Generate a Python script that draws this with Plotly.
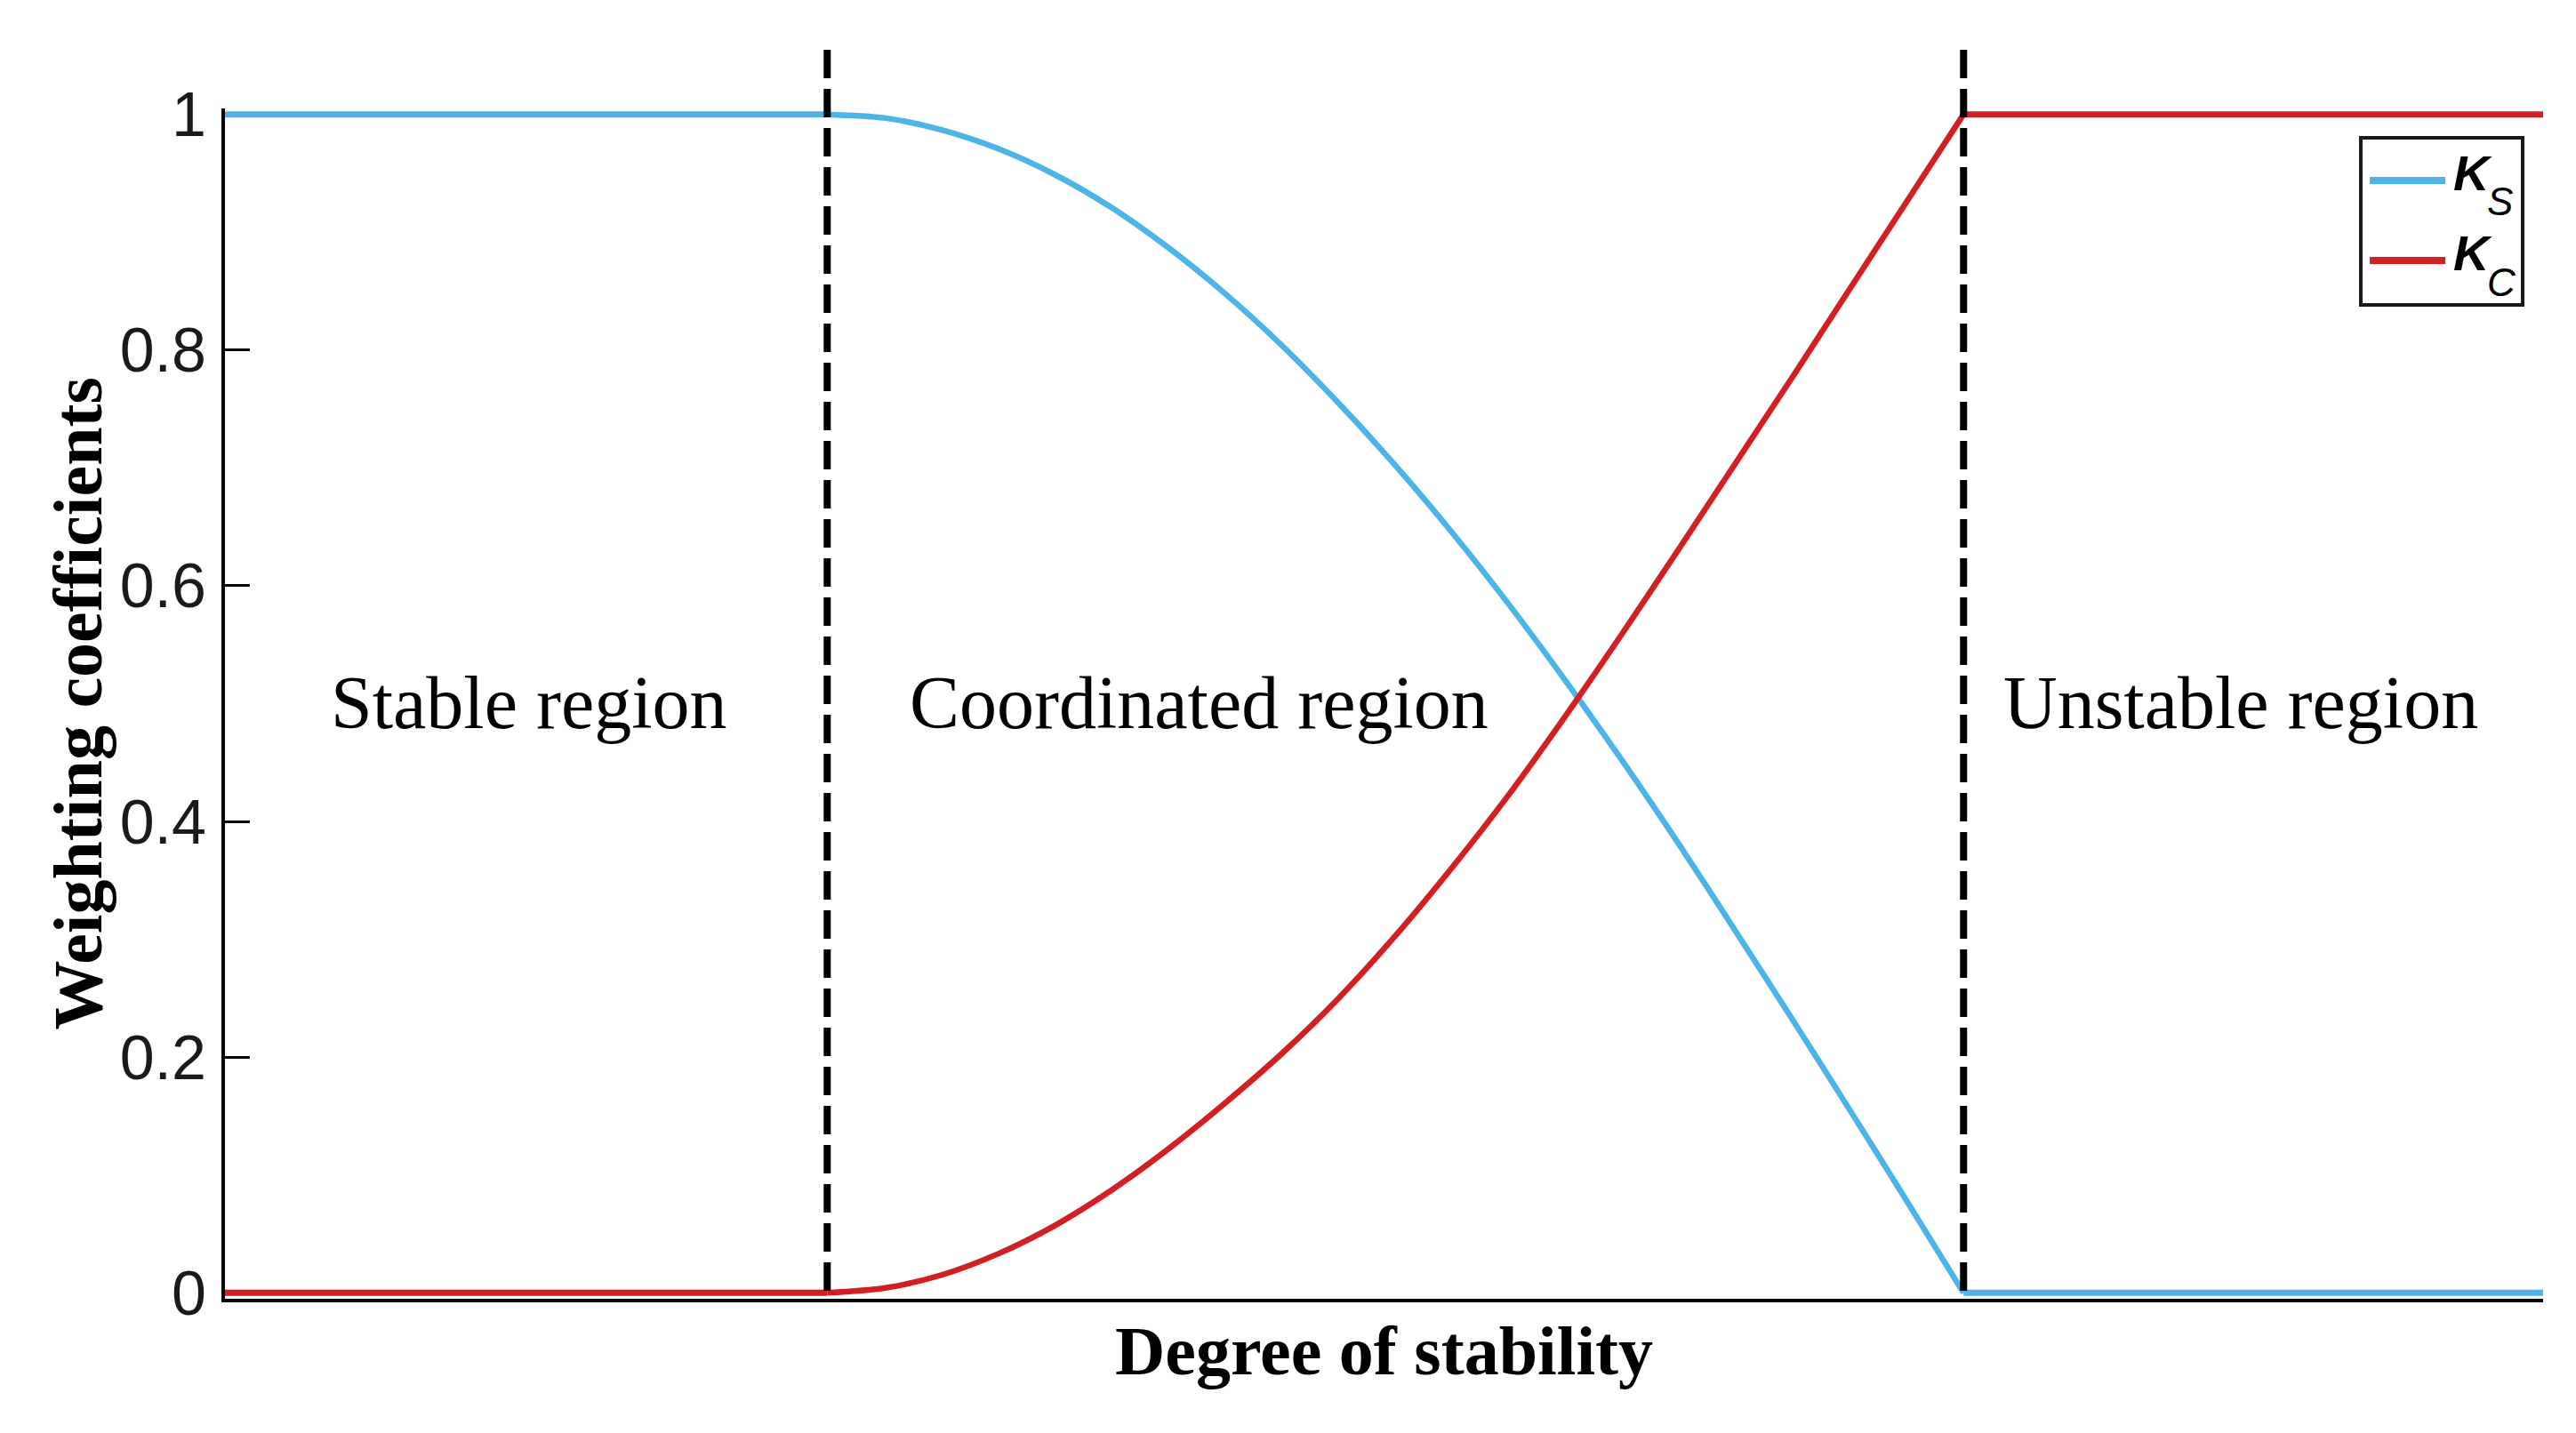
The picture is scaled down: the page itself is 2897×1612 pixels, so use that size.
import plotly.graph_objects as go

# degree of stability (arbitrary units); coordinated region spans 10.6 .. 30.6
flat_x = [0, 10.6, None, 30.6, 40.8]
ks_flat = [1.0, 1.0, None, 0.0, 0.0]
kc_flat = [0.0, 0.0, None, 1.0, 1.0]

curve_x = [10.6, 11.6, 12.6, 13.6, 14.6, 15.6, 16.6, 17.6, 18.6, 19.6, 20.6,
           21.6, 22.6, 23.6, 24.6, 25.6, 26.6, 27.6, 28.6, 29.6, 30.6]
ks_curve = [1.0, 0.997, 0.987, 0.971, 0.949, 0.921, 0.887, 0.848, 0.804, 0.755, 0.702,
            0.645, 0.584, 0.519, 0.451, 0.380, 0.306, 0.231, 0.155, 0.078, 0.0]
kc_curve = [0.0, 0.004, 0.015, 0.033, 0.057, 0.087, 0.122, 0.161, 0.203, 0.250, 0.303,
            0.361, 0.423, 0.490, 0.560, 0.632, 0.705, 0.778, 0.852, 0.926, 1.0]

boundaries = [10.6, 30.6]
region_names = ['Stable region', 'Coordinated region', 'Unstable region']
region_x = [5.35, 17.15, 35.48]

y_ticks = [0, 0.2, 0.4, 0.6, 0.8, 1]
y_ticktext = ['0', '0.2', '0.4', '0.6', '0.8', '1']

blue = '#4CB4E7'
red = '#D11F24'

# page has an 8px body margin, figure sized to fit inside the window
W, H = 2881, 1596
ML, MR, MT, MB = 245, 29, 114, 143
PW, PH = W - ML - MR, H - MT - MB


# absolute screen pixel -> paper coords (for the hand drawn legend etc.)
def px_x(q):
    return (q - 8 - ML) / PW


def px_y(p):
    return (H - MB - (p - 8)) / PH


fig = go.Figure()

for ys, col in [(ks_flat, blue), (kc_flat, red)]:
    fig.add_trace(go.Scatter(x=flat_x, y=ys, mode='lines', showlegend=False,
                             line=dict(color=col, width=7), connectgaps=False))
fig.add_trace(go.Scatter(x=curve_x, y=ks_curve, mode='lines', name='K_S',
                         line=dict(color=blue, width=6.5, shape='spline', smoothing=0.8),
                         showlegend=False))
fig.add_trace(go.Scatter(x=curve_x, y=kc_curve, mode='lines', name='K_C',
                         line=dict(color=red, width=6.5, shape='spline', smoothing=0.8),
                         showlegend=False))

# region boundaries
for b in boundaries:
    fig.add_shape(type='line', xref='x', yref='paper',
                  x0=b, x1=b, y0=px_y(56), y1=px_y(1456),
                  line=dict(color='black', width=8, dash='32px,12px'))

serif = 'Liberation Serif, Times New Roman, serif'
sans = 'Liberation Sans, Arial, sans-serif'

for name, xc in zip(region_names, region_x):
    fig.add_annotation(x=xc, y=0.501, xref='x', yref='y', text=name,
                       showarrow=False, xanchor='center', yanchor='middle',
                       font=dict(family=serif, size=84, color='black'))

# y axis title
fig.add_annotation(x=px_x(87), y=0.5, xref='paper', yref='y domain',
                   text='<b>Weighting coefficients</b>', textangle=-90,
                   showarrow=False, xanchor='center', yanchor='middle',
                   font=dict(family=serif, size=78, color='black'))

# legend box
fig.add_shape(type='rect', xref='paper', yref='paper',
              x0=px_x(2655), x1=px_x(2837), y0=px_y(343), y1=px_y(155),
              line=dict(color='#1a1a1a', width=4), fillcolor='white')
for col, yy, sub, ysub in [(blue, 203, 'S', 224), (red, 293, 'C', 315)]:
    fig.add_shape(type='line', xref='paper', yref='paper',
                  x0=px_x(2665), x1=px_x(2750), y0=px_y(yy), y1=px_y(yy),
                  line=dict(color=col, width=8))
    fig.add_annotation(x=px_x(2757), y=px_y(yy - 9), xref='paper', yref='paper',
                       text='<b><i>K</i></b>', showarrow=False,
                       xanchor='left', yanchor='middle',
                       font=dict(family=sans, size=56, color='black'))
    fig.add_annotation(x=px_x(2795), y=px_y(ysub + 3), xref='paper', yref='paper',
                       text='<i>' + sub + '</i>', showarrow=False,
                       xanchor='left', yanchor='middle',
                       font=dict(family=sans, size=44, color='black'))

fig.update_xaxes(
    range=[0, 40.8],
    showline=True, linecolor='black', linewidth=4,
    showticklabels=False, ticks='', showgrid=False, zeroline=False,
    layer='below traces',
    title=dict(text='<b>Degree of stability</b>', standoff=28,
               font=dict(family=serif, size=78, color='black')),
)
fig.update_yaxes(
    range=[-0.005, 1.005],
    tickvals=y_ticks, ticktext=y_ticktext,
    ticks='inside', ticklen=28, tickwidth=3, tickcolor='black',
    showline=True, linecolor='black', linewidth=4,
    showgrid=False, zeroline=False, layer='below traces',
    ticklabelstandoff=3,
    tickfont=dict(family=sans, size=70, color='#1a1a1a'),
)

fig.update_layout(
    width=W, height=H,
    margin=dict(l=ML, r=MR, t=MT, b=MB, autoexpand=False),
    plot_bgcolor='white', paper_bgcolor='white',
    showlegend=False,
)

fig.write_html("out.html")
